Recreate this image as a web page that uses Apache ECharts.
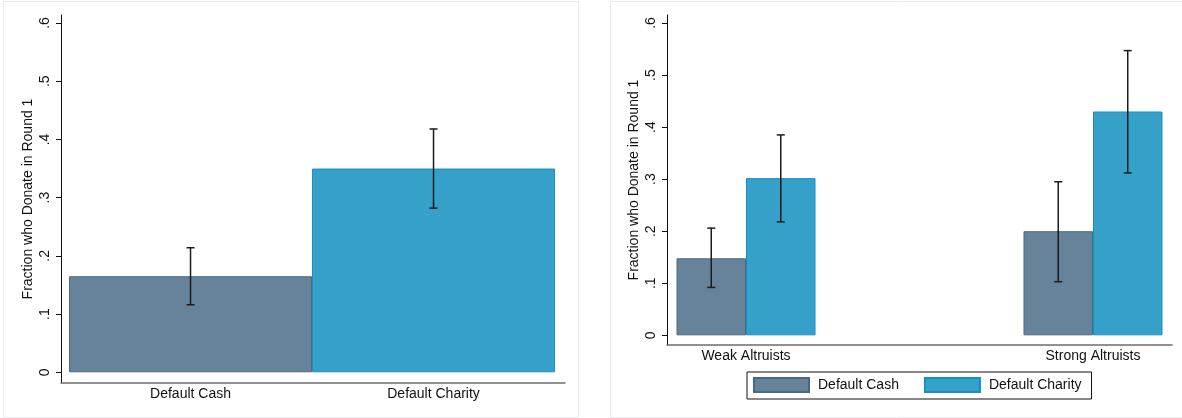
<!DOCTYPE html>
<html>
<head>
<meta charset="utf-8">
<script src="https://cdn.jsdelivr.net/npm/echarts@6/dist/echarts.min.js"></script>
<style>
html,body{margin:0;padding:0;background:#fff;}
#chart{width:1182px;height:418px;}
</style>
</head>
<body>
<div id="chart"></div>
<script>
// ---- Data ----
const leftCategories = ['Default Cash', 'Default Charity'];
const leftMeans = [0.165, 0.350];
const leftLow = [0.116, 0.282];
const leftHigh = [0.214, 0.418];

const rightCategories = ['Weak Altruists', 'Strong Altruists'];
const cashMeans = [0.148, 0.200];
const cashLow = [0.092, 0.103];
const cashHigh = [0.206, 0.295];
const charityMeans = [0.302, 0.430];
const charityLow = [0.218, 0.312];
const charityHigh = [0.385, 0.547];

const yTicks = [0, 0.1, 0.2, 0.3, 0.4, 0.5, 0.6];
const yTickLabels = ['0', '.1', '.2', '.3', '.4', '.5', '.6'];
const seriesNames = ['Default Cash', 'Default Charity'];

// ---- Styles ----
const FONT = 'Liberation Sans, Arial, sans-serif';
const TXT = '#111';
const CASH = {color: '#67839a', borderColor: '#4a6880', borderWidth: 1};
const CHAR = {color: '#35a1c9', borderColor: '#178fc0', borderWidth: 1};
const LEFT_BAR_W = 243;
const RIGHT_BAR_W = 69.5;

const chart = echarts.init(document.getElementById('chart'), null, {renderer: 'canvas'});

function yAxisCfg(gridIndex, min, max) {
  return {
    type: 'value', gridIndex, min, max,
    name: 'Fraction who Donate in Round 1',
    nameLocation: 'middle', nameRotate: 90, nameGap: 26,
    nameTextStyle: {fontFamily: FONT, fontSize: 14, color: TXT},
    axisLine: {show: true, onZero: false, lineStyle: {color: '#111', width: 1}},
    axisTick: {show: true, length: 5, customValues: yTicks, lineStyle: {color: '#111'}},
    axisLabel: {
      customValues: yTicks, rotate: 90, margin: 9,
      fontFamily: FONT, fontSize: 14, color: TXT,
      formatter: v => yTickLabels[Math.round(v * 10)]
    },
    splitLine: {show: false}
  };
}
function xAxisCfg(gridIndex, min, max, cats) {
  return {
    type: 'value', gridIndex, min, max,
    axisLine: {show: true, onZero: false, lineStyle: {color: '#6e6e6e', width: 1.5}},
    axisTick: {show: false},
    axisLabel: {
      customValues: [1, 2], margin: 4,
      fontFamily: FONT, fontSize: 14, color: TXT,
      formatter: v => cats[Math.round(v) - 1]
    },
    splitLine: {show: false}
  };
}

function errRender(offsetPx) {
  return function (params, api) {
    const x = api.value(0);
    const lo = api.coord([x, api.value(1)]);
    const hi = api.coord([x, api.value(2)]);
    const cx = lo[0] + offsetPx;
    const cap = 4;
    const style = {stroke: '#1b1b1b', lineWidth: 1.5};
    return {
      type: 'group',
      children: [
        {type: 'line', shape: {x1: cx, y1: lo[1], x2: cx, y2: hi[1]}, style},
        {type: 'line', shape: {x1: cx - cap, y1: lo[1], x2: cx + cap, y2: lo[1]}, style},
        {type: 'line', shape: {x1: cx - cap, y1: hi[1], x2: cx + cap, y2: hi[1]}, style}
      ]
    };
  };
}

const leftBarData = leftMeans.map((v, i) => ({value: [i + 1, v], itemStyle: i === 0 ? CASH : CHAR}));
const leftErrData = leftMeans.map((v, i) => [i + 1, leftLow[i], leftHigh[i]]);
const cashBarData = cashMeans.map((v, i) => [i + 1, v]);
const charBarData = charityMeans.map((v, i) => [i + 1, v]);
const cashErrData = cashMeans.map((v, i) => [i + 1, cashLow[i], cashHigh[i]]);
const charErrData = charityMeans.map((v, i) => [i + 1, charityLow[i], charityHigh[i]]);

const option = {
  animation: false,
  backgroundColor: '#ffffff',
  graphic: [
    {type: 'rect', shape: {x: 3.5, y: 1.5, width: 575, height: 416}, style: {fill: '#fff', stroke: '#e4ecef', lineWidth: 1}, z: -10, silent: true},
    {type: 'rect', shape: {x: 610.5, y: 1.5, width: 580, height: 416}, style: {fill: '#fff', stroke: '#e4ecef', lineWidth: 1}, z: -10, silent: true}
  ],
  grid: [
    {left: 61, top: 15, width: 504, height: 368},
    {left: 667, top: 15, width: 505, height: 330}
  ],
  xAxis: [
    xAxisCfg(0, 0.467, 2.541, leftCategories),
    xAxisCfg(1, 0.7723, 2.2277, rightCategories)
  ],
  yAxis: [
    yAxisCfg(0, -0.0184, 0.6138),
    yAxisCfg(1, -0.0186, 0.6154)
  ],
  legend: {
    data: seriesNames,
    left: 747, top: 372,
    orient: 'horizontal',
    itemWidth: 55, itemHeight: 14, itemGap: 25,
    padding: [5, 10, 6, 6],
    borderColor: '#111', borderWidth: 1,
    icon: 'rect',
    textStyle: {fontFamily: FONT, fontSize: 14, color: TXT, padding: [0, 0, 0, 4], lineHeight: 14}
  },
  series: [
    {
      name: 'Overall', type: 'bar', xAxisIndex: 0, yAxisIndex: 0,
      barWidth: LEFT_BAR_W, data: leftBarData
    },
    {
      name: 'Overall CI', type: 'custom', xAxisIndex: 0, yAxisIndex: 0,
      renderItem: errRender(0), data: leftErrData, encode: {x: 0, y: [1, 2]}, z: 5
    },
    {
      name: seriesNames[0], type: 'bar', xAxisIndex: 1, yAxisIndex: 1,
      barWidth: RIGHT_BAR_W, barGap: '0%', itemStyle: CASH, data: cashBarData
    },
    {
      name: seriesNames[1], type: 'bar', xAxisIndex: 1, yAxisIndex: 1,
      barWidth: RIGHT_BAR_W, barGap: '0%', itemStyle: CHAR, data: charBarData
    },
    {
      name: 'Cash CI', type: 'custom', xAxisIndex: 1, yAxisIndex: 1,
      renderItem: errRender(-RIGHT_BAR_W / 2), data: cashErrData, encode: {x: 0, y: [1, 2]}, z: 5
    },
    {
      name: 'Charity CI', type: 'custom', xAxisIndex: 1, yAxisIndex: 1,
      renderItem: errRender(RIGHT_BAR_W / 2), data: charErrData, encode: {x: 0, y: [1, 2]}, z: 5
    }
  ]
};
chart.setOption(option);
</script>
</body>
</html>
